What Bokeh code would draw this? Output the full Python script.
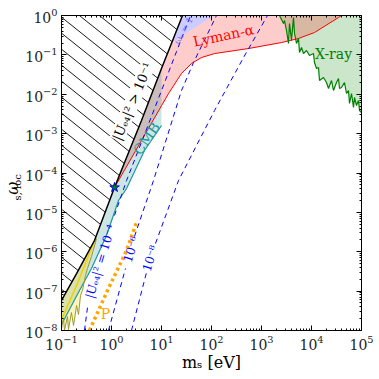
import base64
import numpy as np
from bokeh.plotting import figure
from bokeh.models import Label, LogAxis, FixedTicker, CustomJSTickFormatter, ImageURLTexture
from bokeh.embed import file_html
from bokeh.resources import INLINE

nan = float("nan")

X_RANGE = (0.1, 1e5)
Y_RANGE = (1e-8, 1.0)
X_TICKS = [1e-1, 1e0, 1e1, 1e2, 1e3, 1e4, 1e5]
Y_TICKS = [1e-8, 1e-7, 1e-6, 1e-5, 1e-4, 1e-3, 1e-2, 1e-1, 1e0]

# |U_e4|^2 = 10^-1 boundary (hatched region to its left)
U1_M = [0.1, 0.2, 0.457, 1.148, 3.98, 10.0, 15.8, 26.3]
U1_W = [5.78e-8, 2.8e-7, 1.93e-6, 4.28e-5, 2.15e-3, 4.51e-2, 0.195, 1.0]

# Lyman-alpha bound
LYA_M = [1.148, 3.98, 13.8, 25.1, 39.8, 63.1, 115, 550, 2510, 5500, 11500, 34700, 39800]
LYA_W = [4.28e-5, 6.68e-4, 1.04e-2, 3.36e-2, 6.04e-2, 8.57e-2, 0.108, 0.145, 0.206, 0.261, 0.37, 0.889, 1.0]

# light-blue region near the top
BLUE_M = [15.8, 26.3, 115, 43.7]
BLUE_W = [0.195, 1.0, 1.0, 0.468]

# CMB lower boundary
CMB_M = [0.1, 0.229, 0.398, 0.794, 1.38, 2.0, 4.57, 10.0]
CMB_W = [1.42e-8, 1.04e-7, 3.76e-7, 2.59e-6, 2.0e-5, 4.04e-5, 3.72e-4, 1.61e-3]

# yellow region lower (jagged) boundary and gold line
OLIVE_M = [0.1, 0.1096, 0.1148, 0.1318, 0.138, 0.158, 0.174, 0.2, 0.219, 0.240, 0.263, 0.302, 0.331, 0.398, 0.501]
OLIVE_W = [1.12e-8, 2.02e-8, 1.0e-8, 2.27e-8, 1.06e-8, 2.86e-8, 1.34e-8, 4.31e-8, 2.55e-8, 7.74e-8, 1.04e-7, 2.49e-7, 3.76e-7, 7.57e-7, 2.17e-6]
GOLD_M = [0.1, 0.2, 0.457]
GOLD_W = [1.9e-8, 1.39e-7, 1.93e-6]

# P (orange dotted)
P_M = [0.363, 0.832, 1.38, 2.0, 3.16]
P_W = [1e-8, 1.04e-7, 3.98e-7, 1.08e-6, 5.53e-6]

# |U_e4|^2 contours (dashed), gaps where labels sit
U4_M = [0.288, 0.331, nan, 1.148, 2.0, 4.57, 10.0, 20.0, 38.0]
U4_W = [1e-8, 3.84e-8, nan, 8.34e-6, 6.45e-5, 9.5e-4, 1.24e-2, 0.122, 1.0]
U6_M = [0.871, 1.905, nan, 2.88, 6.92, 25.1, 43.7, 126]
U6_W = [1e-8, 3.76e-7, nan, 2.44e-6, 6.45e-5, 1.24e-2, 6.4e-2, 1.0]
U8_M = [2.51, 5.01, nan, 7.59, 21.9, 115, 437, 1318]
U8_W = [1e-8, 2.97e-7, nan, 1.62e-6, 6.45e-5, 3.86e-3, 8.57e-2, 1.0]

# X-ray bound
XRAY_M = [2291, 2754, 2884, 3162, 3467, 3631, 3981, 4365, 4571, 5012, 5495, 5754, 6310, 6918, 7943, 9120,
          10965, 11482, 12589, 13804, 14454, 17378, 19953, 21878, 25119, 27542, 31623, 34674, 36308, 39811,
          45709, 50119, 54954, 57544, 63096, 69183, 72444, 79433, 87096, 91201, 100000]
XRAY_W = [1.0, 0.627, 0.746, 0.416, 0.195, 0.627, 0.232, 0.889, 0.349, 0.195, 0.261, 0.115, 0.154, 0.108, 0.129, 0.0964,
          0.108, 0.064, 0.0451, 0.0477, 0.0223, 0.0266, 0.0199, 0.014, 0.0223, 0.01245, 0.0199, 0.0251, 0.014, 0.0148,
          0.0199, 0.01045, 0.01245, 0.00582, 0.01045, 0.0046, 0.00826, 0.00518, 0.00693, 0.00386, 0.00344]

STAR_M = [1.15]
STAR_W = [4.3e-5]

FONT = "DejaVu Serif"

p = figure(x_axis_type="log", y_axis_type="log", x_range=X_RANGE, y_range=Y_RANGE,
           frame_width=300, frame_height=315, min_border_left=60, min_border_right=18,
           min_border_top=15, min_border_bottom=48, output_backend="svg", toolbar_location=None,
           background_fill_color="white", border_fill_color="white")
p.xgrid.visible = False
p.ygrid.visible = False
p.outline_line_color = "black"
p.outline_line_width = 1

minor_x = [k * 10.0 ** n for n in range(-1, 5) for k in range(2, 10)]
minor_y = [k * 10.0 ** n for n in range(-8, 0) for k in range(2, 10)]

def style_axis(ax, ticks, minor, labels=True):
    ax.ticker = FixedTicker(ticks=ticks, minor_ticks=minor)
    ax.axis_line_color = "black"
    ax.major_tick_in = 5
    ax.major_tick_out = 0
    ax.minor_tick_in = 2
    ax.minor_tick_out = 0
    ax.major_tick_line_color = "black"
    ax.minor_tick_line_color = "black"
    if labels:
        ax.major_label_text_font = FONT
        ax.major_label_text_font_size = "14px"
        ax.major_label_text_color = "#222222"
        ax.major_label_standoff = 4
        ax.axis_label_text_font = FONT
        ax.axis_label_text_font_size = "16px"
        ax.axis_label_text_font_style = "normal"
        ax.axis_label_text_color = "black"
        ax.axis_label_standoff = 0
    else:
        ax.formatter = CustomJSTickFormatter(code="return ' '")
        ax.major_label_text_font_size = "1px"
        ax.major_label_standoff = 0

style_axis(p.xaxis[0], X_TICKS, minor_x)
style_axis(p.yaxis[0], Y_TICKS, minor_y)
p.xaxis[0].axis_label = "mₛ [eV]"
p.yaxis[0].axis_label = "ω      "
p.yaxis[0].axis_label_text_font_style = "italic"
top = LogAxis()
right = LogAxis()
style_axis(top, X_TICKS, minor_x, labels=False)
style_axis(right, Y_TICKS, minor_y, labels=False)
p.add_layout(top, "above")
p.add_layout(right, "right")

# subscript of the y-axis title: an invisible outer axis whose label is pulled inwards
sub_axis = LogAxis()
style_axis(sub_axis, Y_TICKS, minor_y, labels=False)
sub_axis.axis_line_color = None
sub_axis.major_tick_line_color = None
sub_axis.minor_tick_line_color = None
sub_axis.axis_label = "         s, loc"
sub_axis.axis_label_text_font = FONT
sub_axis.axis_label_text_font_size = "10px"
sub_axis.axis_label_text_font_style = "normal"
sub_axis.axis_label_text_color = "black"
sub_axis.axis_label_standoff = -26
p.add_layout(sub_axis, "left")

# hatch texture: thin diagonal lines (top-left to bottom-right), ~39 degrees
svg_tile = ('<svg xmlns="http://www.w3.org/2000/svg" width="20" height="16">'
            '<path d="M-20 -16 L40 32 M0 -16 L40 16 M-20 0 L20 32" stroke="black" stroke-width="0.9" fill="none"/></svg>')
tile_url = "data:image/svg+xml;base64," + base64.b64encode(svg_tile.encode()).decode()

# --- filled regions ---
p.patch(XRAY_M + [1e5, XRAY_M[0]], XRAY_W + [1.0, 1.0], fill_color="green", fill_alpha=0.2, line_color=None)

pink_m = U1_M[3:6] + [BLUE_M[0], BLUE_M[3], BLUE_M[2]] + LYA_M[::-1]
pink_w = U1_W[3:6] + [BLUE_W[0], BLUE_W[3], BLUE_W[2]] + LYA_W[::-1]
p.patch(pink_m, pink_w, fill_color="red", fill_alpha=0.2, line_color=None)

p.patch(BLUE_M, BLUE_W, fill_color="blue", fill_alpha=0.2, line_color=None)

cmb_m = U1_M[0:6] + CMB_M[::-1]
cmb_w = U1_W[0:6] + CMB_W[::-1]
p.patch(cmb_m, cmb_w, fill_color="teal", fill_alpha=0.2, line_color=None)

yel_m = U1_M[0:3] + OLIVE_M[::-1]
yel_w = U1_W[0:3] + OLIVE_W[::-1]
p.patch(yel_m, yel_w, fill_color="#ffd700", fill_alpha=0.25, line_color=None)

p.patch(U1_M + [0.1], U1_W + [1.0], fill_alpha=0, line_color=None,
        hatch_pattern="diag", hatch_extra={"diag": ImageURLTexture(url=tile_url, repetition="repeat")},
        hatch_alpha=1.0)

# --- lines ---
p.line(LYA_M, LYA_W, line_color="red", line_width=1)
p.line(CMB_M, CMB_W, line_color="#1a9a9a", line_width=1.2)
p.line(XRAY_M, XRAY_W, line_color="green", line_width=1.2)
p.line(OLIVE_M, OLIVE_W, line_color="#9a9a30", line_width=1)
p.line(GOLD_M, GOLD_W, line_color="#f0d000", line_width=1.5)
for mm, ww in [(U4_M, U4_W), (U6_M, U6_W), (U8_M, U8_W)]:
    p.line(mm, ww, line_color="blue", line_width=1, line_dash="5 4")
p.line(P_M, P_W, line_color="orange", line_width=3.5, line_dash="3 3")
p.line(U1_M, U1_W, line_color="black", line_width=1.5)
p.scatter(STAR_M, STAR_W, marker="star", size=10, fill_color="green", line_color="blue", line_width=1)

# --- text ---
def lab(x, y, text, color, size, angle=0, style="normal", bg=None):
    L = Label(x=x, y=y, text=text, text_color=color, text_font=FONT, text_font_size=size,
              text_font_style=style, angle=angle, angle_units="deg",
              text_align="center", text_baseline="middle")
    if bg:
        L.background_fill_color = bg
    p.add_layout(L)

lab(2.63, 6.55e-3, "|Uₑ₄|² > 10⁻¹", "black", "13px", 67, bg="white")
lab(0.603, 5.65e-7, "|Uₑ₄|² = 10⁻⁴", "blue", "12px", 73)
lab(2.51, 1.14e-6, "10⁻⁶", "blue", "12px", 72)
lab(6.03, 6.75e-7, "10⁻⁸", "blue", "12px", 72)
lab(5.01, 7.5e-4, "CMB", "#1a9a9a", "14px", 55)
lab(174, 0.31, "Lyman-α", "red", "14px", 12)
lab(27542, 0.108, "X-ray", "green", "14px", 0)
lab(0.759, 2.7e-8, "P", "orange", "14px", 0)
lab(27.5, 0.416, "ωₛ = 1", "#7777ff", "9px", 60)

open("out.html", "w").write(file_html(p, INLINE))
